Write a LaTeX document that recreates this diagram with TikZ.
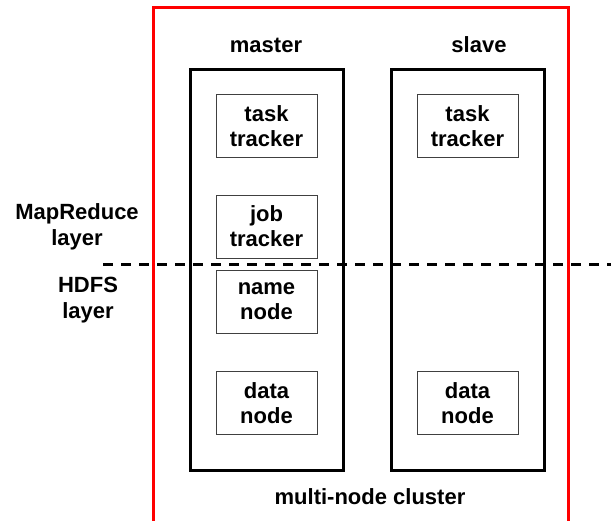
\documentclass[tikz,border=0pt]{standalone}
\usepackage{fontspec}
\setmainfont{Liberation Sans}
\begin{document}
\begin{tikzpicture}[x=1pt,y=-1pt,
  lbl/.style={font=\fontsize{22}{26}\selectfont\bfseries, align=center, inner sep=0pt},
  inner/.style={draw=black!75, line width=1pt, minimum width=101pt, minimum height=63pt, align=center, font=\fontsize{22}{25}\selectfont\bfseries, inner sep=0pt},
  host/.style={draw=black, line width=3pt, minimum width=153pt, minimum height=401pt, inner sep=0pt},
]
\useasboundingbox (0,0) rectangle (611,520);
% cluster (open bottom)
\draw[red, line width=3pt] (153,530) -- (153,7) -- (568,7) -- (568,530);
% hosts
\node[host] (master) at (266.5,269.5) {};
\node[host] (slave) at (467.5,269.5) {};
\node[lbl] (mlabel) at (266,45) {master};
\node[lbl] (slabel) at (479,45) {slave};
% inner components
\node[inner] (mtt) at (266.5,126) {task\\tracker};
\node[inner] (mjt) at (266.5,226.5) {job\\tracker};
\node[inner] (mnn) at (266.5,301.5) {name\\node};
\node[inner] (mdn) at (266.5,403) {data\\node};
\node[inner] (stt) at (467.5,126) {task\\tracker};
\node[inner] (sdn) at (467.5,403) {data\\node};
% layer labels
\node[lbl] (mr) at (77,227) {MapReduce\\layer};
\node[lbl] (hdfs) at (88,300) {HDFS\\layer};
\node[lbl] (cl) at (370,497) {multi-node cluster};
% dashed divider
\coordinate (dl) at (103,264);
\coordinate (dr) at (611,264);
\draw[line width=3pt, dash pattern=on 10pt off 8pt] (dl) -- (dr);
\end{tikzpicture}
\end{document}
